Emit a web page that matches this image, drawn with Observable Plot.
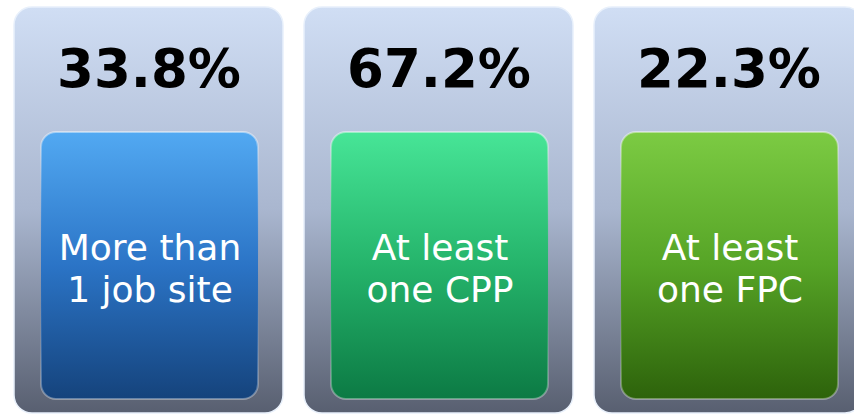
<!DOCTYPE html>
<html>
<head>
<meta charset="utf-8">
<script src="https://cdn.jsdelivr.net/npm/d3@7"></script>
<script src="https://cdn.jsdelivr.net/npm/@observablehq/plot@0.6"></script>
<style>
  html, body { margin: 0; padding: 0; background: #ffffff; overflow: hidden; }
</style>
</head>
<body>
<div id="chart"></div>
<script>
// ---- data ----
const keys = ["site", "cpp", "fpc"];
const labels = ["More than\n1 job site", "At least\none CPP", "At least\none FPC"];
const percents = [33.8, 67.2, 22.3];

// ---- styles (gradient stops: top, middle, bottom) ----
const innerGradients = {
  site: ["#52a9f2", "#2b74c6", "#15437c"],
  cpp:  ["#47e597", "#25b46b", "#0c7a44"],
  fpc:  ["#7ccb43", "#56a426", "#2d620b"]
};
const outerGradient = ["#d0def4", "#a9b6cf", "#585f70"];

const data = keys.map((k, i) => ({key: k, label: labels[i], pct: percents[i]}));

const W = 854, H = 415;

const svg = Plot.plot({
  width: W,
  height: H,
  marginTop: 0, marginBottom: 0, marginLeft: 0, marginRight: 0,
  style: {background: "transparent", overflow: "visible"},
  x: {type: "band", domain: labels, range: [13, 863], paddingInner: 0.074, paddingOuter: 0, axis: null},
  color: {type: "identity"},
  marks: [
    // outer card
    Plot.cell(data, {
      x: "label",
      fill: () => "url(#g-outer)",
      stroke: "#e8f0fb",
      strokeWidth: 1.5,
      rx: 18,
      insetTop: 7, insetBottom: 2, insetLeft: 0, insetRight: 0
    }),
    // inner coloured box
    Plot.cell(data, {
      x: "label",
      fill: d => `url(#g-${d.key})`,
      stroke: d => `url(#s-${d.key})`,
      strokeWidth: 2,
      rx: 15,
      insetTop: 132, insetBottom: 16, insetLeft: 27, insetRight: 25
    }),
    // percentage
    Plot.text(data, {
      x: "label",
      text: d => d.pct.toFixed(1) + "%",
      frameAnchor: "top",
      dy: 70,
      lineAnchor: "middle",
      fontFamily: "DejaVu Sans",
      fontWeight: "bold",
      fontSize: 53,
      fill: "#000000"
    }),
    // label
    Plot.text(data, {
      x: "label",
      text: "label",
      frameAnchor: "top",
      dx: 1,
      dy: 267,
      lineAnchor: "middle",
      lineHeight: 42 / 36,
      fontFamily: "DejaVu Sans",
      fontSize: 36,
      fill: "#ffffff"
    })
  ]
});

// gradient definitions
const ns = "http://www.w3.org/2000/svg";
const defs = document.createElementNS(ns, "defs");
function addGradient(id, stops, opacities) {
  const g = document.createElementNS(ns, "linearGradient");
  g.setAttribute("id", id);
  g.setAttribute("x1", "0"); g.setAttribute("y1", "0");
  g.setAttribute("x2", "0"); g.setAttribute("y2", "1");
  stops.forEach((c, i) => {
    const s = document.createElementNS(ns, "stop");
    s.setAttribute("offset", (i / (stops.length - 1)).toString());
    s.setAttribute("stop-color", c);
    if (opacities) s.setAttribute("stop-opacity", opacities[i]);
    g.appendChild(s);
  });
  defs.appendChild(g);
}
addGradient("g-outer", outerGradient);
for (const k of keys) {
  addGradient(`g-${k}`, innerGradients[k]);
  addGradient(`s-${k}`, ["#ffffff", innerGradients[k][1], "#ffffff"], [0.45, 0.0, 0.35]);
}
svg.insertBefore(defs, svg.firstChild);

document.getElementById("chart").appendChild(svg);
</script>
</body>
</html>
